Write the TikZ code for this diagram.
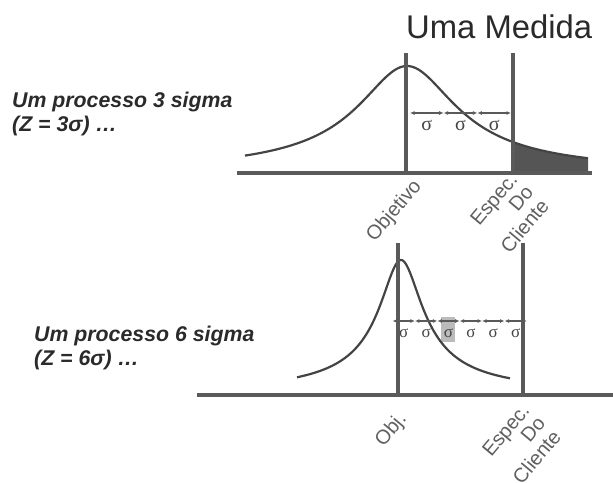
\documentclass[tikz,border=0pt]{standalone}
\usepackage{fontspec}
\setmainfont{Liberation Sans}
\newfontfamily\sigfont{Liberation Serif}
\usetikzlibrary{arrows.meta}
\definecolor{axisgray}{HTML}{5A5A5A}
\definecolor{curvegray}{HTML}{444444}
\definecolor{labelgray}{HTML}{606060}
\definecolor{textdark}{HTML}{2A2A2A}
\definecolor{tailgray}{HTML}{555555}
\definecolor{markgray}{HTML}{BBBBBB}
\tikzset{%
	axis line/.style={draw=axisgray, line width=3.5pt},
	spec line/.style={draw=axisgray, line width=4.5pt},
	bell/.style={draw=curvegray, line width=2.2pt},
	sigma arrow/.style={
		draw=axisgray,
		line width=1.1pt,
		{Latex[length=4.5pt,width=4pt]}-{Latex[length=4.5pt,width=4pt]}
	},
	sigma label/.style={text=curvegray, inner sep=0, anchor=base},
	tick label/.style={
		text=labelgray,
		font=\fontsize{20}{20.5}\selectfont,
		rotate=50,
		inner sep=0,
		align=right,
		anchor=north east
	},
	caption/.style={
		text=textdark,
		font=\bfseries\itshape\fontsize{21.3}{24}\selectfont,
		inner sep=0,
		anchor=base west
	},
}

\begin{document}
\begin{tikzpicture}[x=1pt, y=-1pt]
			\useasboundingbox (0,0) rectangle (613,482);
			
			\node[text=textdark, font=\fontsize{32.8}{38}\selectfont, inner sep=0, anchor=base west] (title) at (406,38) {Uma Medida};
			
			% 3 sigma
			\node[caption] (cap3a) at (12,107) {Um processo 3 sigma};
			\node[caption] (cap3b) at (12,131) {(Z = 3σ) …};
			
			\fill[tailgray] (513,173) -- plot[domain=513:588, samples=76] (\x,{173-107/(1+((\x-407)/55)^2)^0.8}) -- (588,173) -- cycle;
			\draw[bell] plot[domain=245:588, samples=344] (\x,{173-107/(1+((\x-407)/55)^2)^0.8});
			\draw[spec line] (406,53) -- (406,173);
			\draw[spec line] (513,53) -- (513,173);
			\draw[axis line] (237,173) -- (592,173);
			
			\foreach \i in {0,...,3}
				\coordinate (t\i) at ({410+33.67*\i},113);
			\foreach \i/\j in {0/1,1/2,2/3}{
				\draw[sigma arrow] (t\i) -- (t\j);
				\node[sigma label, font=\sigfont\fontsize{20}{20}\selectfont] (ts\j) at ({426.8+33.67*\i},130) {σ};
			}
			
			\node[tick label] (obj3) at (411,177) {Objetivo};
			\node[tick label] (spec3) at (508,171) {Espec.\\Do\\Cliente};
			
			% 6 sigma
			\node[caption] (cap6a) at (34,341) {Um processo 6 sigma};
			\node[caption] (cap6b) at (34,365) {(Z = 6σ) …};
			
			\fill[markgray] (441,317) rectangle (455,342);
			\draw[bell] plot[domain=297:510, samples=214] (\x,{395-135/(1+((\x-401)/22.3)^2)^0.65});
			\draw[spec line] (398,243) -- (398,395);
			\draw[spec line] (523,243) -- (523,395);
			\draw[axis line] (197,395) -- (613,395);
			
			\foreach \i in {0,...,6}
				\coordinate (b\i) at ({392.5+22.4*\i},321);
			\foreach \i/\j in {0/1,1/2,2/3,3/4,4/5,5/6}{
				\draw[sigma arrow] (b\i) -- (b\j);
				\node[sigma label, font=\sigfont\fontsize{17}{17}\selectfont] (bs\j) at ({403.7+22.4*\i},337) {σ};
			}
			
			\node[tick label] (obj6) at (396,410) {Obj.};
			\node[tick label] (spec6) at (520,402) {Espec.\\Do\\Cliente};
			
		\end{tikzpicture}
\end{document}
